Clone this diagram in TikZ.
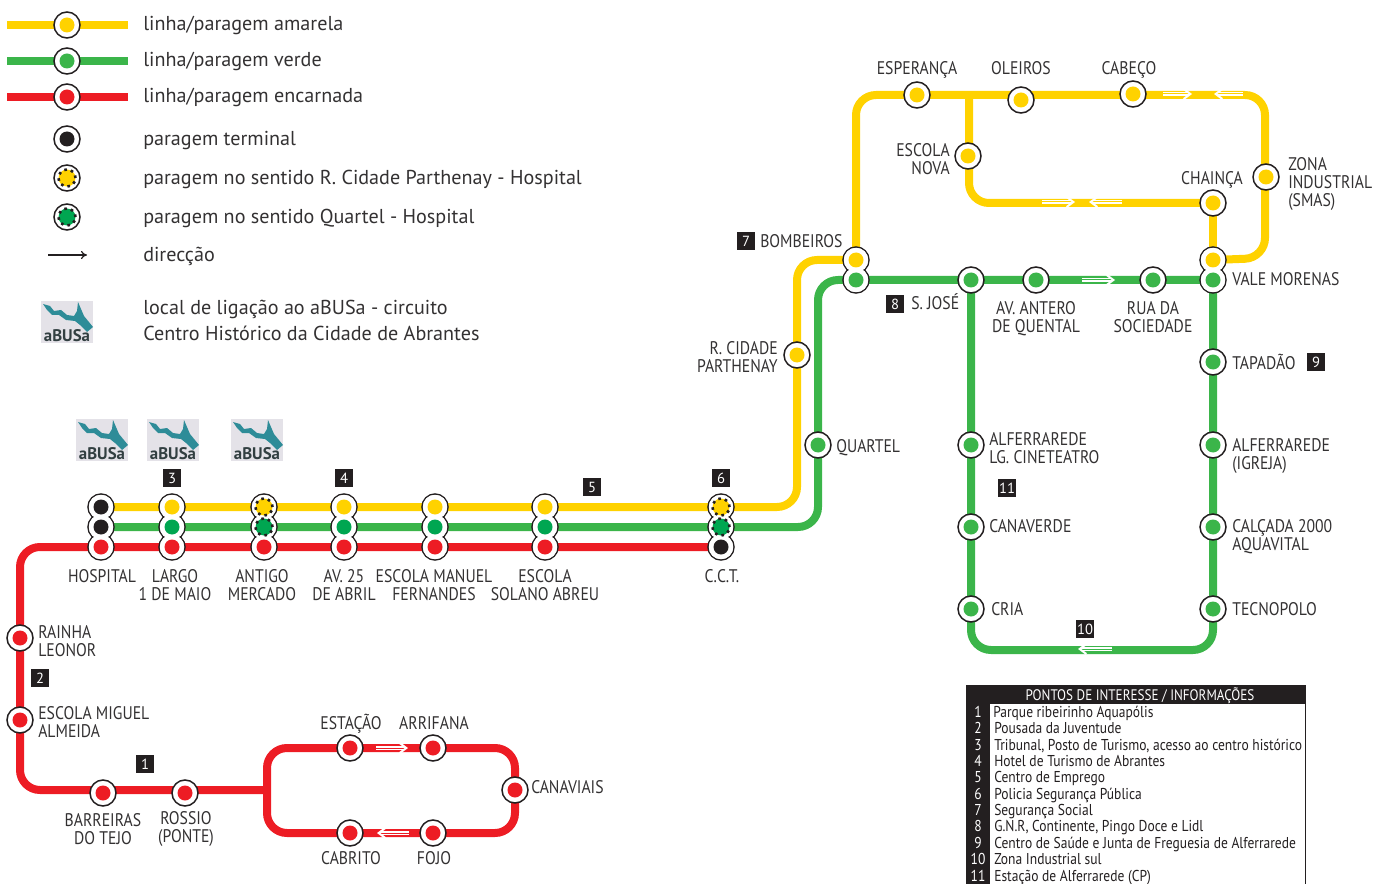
\documentclass[tikz,border=0pt]{standalone}
\usepackage{fontspec}
\setmainfont{PT Sans}
\newfontfamily\condfont[FakeStretch=0.86]{PT Sans}
\usetikzlibrary{arrows.meta}
\newdimen\px \px=.75pt
\definecolor{ylw}{HTML}{FFD200}
\definecolor{grn}{HTML}{3BB54A}
\definecolor{dgrn}{HTML}{00A651}
\definecolor{rd}{HTML}{ED1C24}
\definecolor{blk}{HTML}{231F20}
\definecolor{txt}{HTML}{333132}
\definecolor{teal}{HTML}{2E8C98}
\definecolor{icongrey}{HTML}{E4E2E8}
\pgfdeclarelayer{lines}
\pgfsetlayers{lines,main}
\tikzset{
 ring/.style={circle,draw=blk,line width=1.5\px,fill=white,minimum size=26\px,inner sep=0pt},
 hole/.style={circle,fill=white,minimum size=24.5\px,inner sep=0pt},
 dot/.style={circle,fill=#1,minimum size=15\px,inner sep=0pt},
 dotted dot/.style={circle,fill=#1,draw=blk,line width=2.6\px,dash pattern=on 2.6\px off 4.1\px,minimum size=17\px,inner sep=0pt},
 route/.style={line width=8\px,line join=round},
 ylwline/.style={route,draw=ylw,rounded corners=20\px},
 grnline/.style={route,draw=grn,rounded corners=20\px},
 rdline/.style={route,draw=rd,rounded corners=20\px},
 legendline/.style={line width=8\px},
 lab/.style={font=\condfont\fontsize{13.7pt}{13.5pt}\selectfont,text=txt,inner sep=0pt,align=center,text height=9.6pt,text depth=0pt},
 labl/.style={lab,anchor=west,align=left},
 labr/.style={lab,anchor=east,align=right},
 legtext/.style={font=\fontsize{15.1pt}{18.75pt}\selectfont,text=txt,inner sep=0pt,anchor=base west},
 numbox/.style={fill=blk,text=white,minimum size=18\px,inner sep=0pt,font=\fontsize{11pt}{12pt}\selectfont},
 rowtext/.style={font=\condfont\fontsize{11.8pt}{12pt}\selectfont,text=blk,inner sep=0pt,anchor=west,text height=8.3pt,text depth=0pt},
 rownum/.style={font=\condfont\fontsize{11.8pt}{12pt}\selectfont,text=white,inner sep=0pt,text height=8.3pt,text depth=0pt},
 dirarrow/.style={draw=white,line width=1.1\px,double=#1,double distance=1\px,-{Straight Barb[length=5pt,width=7.5pt,line width=1.5pt,color=white]}},
}
\newcommand{\stn}[4]{\node[ring] (#1) at (#2,#3) {};\node[dot=#4] at (#1) {};}
\newcommand{\stndot}[4]{\node[ring] (#1) at (#2,#3) {};\node[dotted dot=#4] at (#1) {};}
\newcommand{\icon}[3]{%
 \begin{scope}[shift={(#2,#3)}]
 \fill[icongrey] (0,0) rectangle (52,42);
 \fill[teal] (2,3) -- (9,5) -- (13,10) -- (20,9) -- (26,14) -- (33,15) -- (36,10) -- (37,1) -- (40,8) -- (43,15) -- (52,26) -- (46,31) -- (39,24) -- (34,20) -- (25,19) -- (18,14) -- (11,14) -- (6,9) -- cycle;
 \node[inner sep=0pt,text=txt!85!teal,font=\fontsize{12.6pt}{12pt}\bfseries\selectfont] (#1) at (26,35) {aBUSa};
 \end{scope}}
\begin{document}
\begin{tikzpicture}[x=.75pt,y=-.75pt]
\useasboundingbox (0,0) rectangle (1385,884);
% ---------- legend
\stn{legY}{67}{25}{ylw}
\stn{legG}{67}{61}{grn}
\stn{legR}{67}{97}{rd}
\stn{legT}{67}{139}{blk}
\stndot{legDY}{67}{178}{ylw}
\stndot{legDG}{67}{217}{dgrn}
\coordinate (lyA) at (7,25); \coordinate (lyB) at (128,25);
\coordinate (lgA) at (7,61); \coordinate (lgB) at (128,61);
\coordinate (lrA) at (7,97); \coordinate (lrB) at (128,97);
\coordinate (arA) at (48,255); \coordinate (arB) at (87,255);
\node[legtext] (t1) at (143,31) {linha/paragem amarela};
\node[legtext] (t2) at (143,67) {linha/paragem verde};
\node[legtext] (t3) at (143,103) {linha/paragem encarnada};
\node[legtext] (t4) at (143,146) {paragem terminal};
\node[legtext] (t5) at (143,185) {paragem no sentido R. Cidade Parthenay - Hospital};
\node[legtext] (t6) at (143,224) {paragem no sentido Quartel - Hospital};
\node[legtext] (t7) at (143,262) {direcção};
\node[legtext] (t8) at (143,315) {local de ligação ao aBUSa - circuito};
\node[legtext] (t9) at (143,340) {Centro Histórico da Cidade de Abrantes};
\icon{ic0}{41}{301}
\icon{ic1}{76}{419}
\icon{ic2}{147}{419}
\icon{ic3}{231}{419}
% ---------- stops: trunk
\stn{hospY}{101}{507}{blk}\stn{hospG}{101}{527}{blk}\stn{hospR}{101}{547}{rd}
\stn{largoY}{172}{507}{ylw}\stn{largoG}{172}{527}{dgrn}\stn{largoR}{172}{547}{rd}
\stndot{antY}{264}{507}{ylw}\stndot{antG}{264}{527}{dgrn}\stn{antR}{264}{547}{rd}
\stn{avY}{344}{507}{ylw}\stn{avG}{344}{527}{dgrn}\stn{avR}{344}{547}{rd}
\stn{manY}{435}{507}{ylw}\stn{manG}{435}{527}{dgrn}\stn{manR}{435}{547}{rd}
\stn{solY}{545}{507}{ylw}\stn{solG}{545}{527}{dgrn}\stn{solR}{545}{547}{rd}
\stndot{cctY}{721}{507}{ylw}\stndot{cctG}{721}{527}{dgrn}\stn{cctR}{721}{547}{blk}
% merged outlines of the stacks
\foreach \n in {hospY,hospG,hospR,largoY,largoG,largoR,antY,antG,antR,avY,avG,avR,manY,manG,manR,solY,solG,solR,cctY,cctG,cctR}{\node[hole] at (\n) {};}
\foreach \n/\c in {hospY/blk,hospG/blk,hospR/rd,largoY/ylw,largoG/dgrn,largoR/rd,antR/rd,avY/ylw,avG/dgrn,avR/rd,manY/ylw,manG/dgrn,manR/rd,solY/ylw,solG/dgrn,solR/rd,cctR/blk}{\node[dot=\c] at (\n) {};}
\foreach \n/\c in {antY/ylw,antG/dgrn,cctY/ylw,cctG/dgrn}{\node[dotted dot=\c] at (\n) {};}
% ---------- stops: red line
\stn{rainha}{20}{638}{rd}
\stn{miguel}{20}{720}{rd}
\stn{barr}{103}{793}{rd}
\stn{rossio}{185}{793}{rd}
\stn{estacao}{350}{748}{rd}
\stn{arrif}{433}{748}{rd}
\stn{canav}{515}{790}{rd}
\stn{cabrito}{350}{833}{rd}
\stn{fojo}{433}{833}{rd}
% ---------- stops: yellow
\stn{parth}{797}{355}{ylw}
\stn{esper}{917}{95}{ylw}
\stn{oleir}{1021}{100}{ylw}
\stn{cabeco}{1133}{94}{ylw}
\stn{zona}{1266}{177}{ylw}
\stn{esnova}{968}{156}{ylw}
\stn{chainca}{1213}{203}{ylw}
% ---------- stops: green
\stn{quartel}{818}{445}{grn}
\stn{sjose}{971}{280}{grn}
\stn{antero}{1036}{280}{grn}
\stn{socied}{1153}{280}{grn}
\stn{tapadao}{1213}{362}{grn}
\stn{igreja}{1213}{445}{grn}
\stn{calcada}{1213}{527}{grn}
\stn{tecno}{1213}{609}{grn}
\stn{cine}{971}{445}{grn}
\stn{canav2}{971}{527}{grn}
\stn{cria}{971}{609}{grn}
% stacked pairs
\stn{bombY}{856}{260}{ylw}\stn{bombG}{856}{280}{grn}
\stn{valeY}{1213}{260}{ylw}\stn{valeG}{1213}{280}{grn}
\foreach \n/\c in {bombY/ylw,bombG/grn,valeY/ylw,valeG/grn}{\node[hole] at (\n) {};\node[dot=\c] at (\n) {};}
% ---------- corner points
\coordinate (yc1) at (797,507); \coordinate (yc2) at (797,260);
\coordinate (yc3) at (856,95); \coordinate (yc4) at (1265,95); \coordinate (yc5) at (1265,258);
\coordinate (yb1) at (969,95); \coordinate (yb2) at (969,203);
\coordinate (gc1) at (818,527); \coordinate (gc2) at (818,280);
\coordinate (gc3) at (1213,650); \coordinate (gc4) at (971,650);
\coordinate (rc1) at (20,547); \coordinate (rc2) at (20,790); \coordinate (rj) at (267,790);
\coordinate (lc1) at (267,748); \coordinate (lc2) at (515,748); \coordinate (lc3) at (515,833); \coordinate (lc4) at (267,833);
% ---------- routes
\begin{pgfonlayer}{lines}
\draw[legendline,ylw] (lyA) -- (lyB);
\draw[legendline,grn] (lgA) -- (lgB);
\draw[legendline,rd] (lrA) -- (lrB);
\draw[ylwline] (hospY.center) -- (yc1) -- (yc2) -- (bombY.center);
\draw[ylwline] (bombY.center) -- (yc3) -- (yc4) -- (yc5) -- (valeY.center);
\draw[ylwline] (valeY.center) -- (chainca.center);
\draw[ylwline] (chainca.center) -- (yb2) -- (yb1);
\draw[grnline] (hospG.center) -- (gc1) -- (gc2) -- (valeG.center);
\draw[grnline] (valeG.center) -- (gc3) -- (gc4) -- (sjose.center);
\draw[rdline] (cctR.center) -- (rc1) -- (rc2) -- (rj);
\draw[rdline] (lc1) -- (lc2) -- (lc3) -- (lc4) -- cycle;
\end{pgfonlayer}
\draw[-{To[length=4.5pt,width=6pt]},line width=1.2\px,blk] (arA) -- (arB);
% white direction arrows
\coordinate (a1) at (1163,94); \coordinate (a2) at (1192,94);
\coordinate (a3) at (1243,94); \coordinate (a4) at (1214,94);
\coordinate (a5) at (1042,202); \coordinate (a6) at (1075,202);
\coordinate (a7) at (1122,202); \coordinate (a8) at (1089,202);
\coordinate (a9) at (1082,280); \coordinate (a10) at (1115,280);
\coordinate (a11) at (376,748); \coordinate (a12) at (408,748);
\coordinate (a13) at (409,833); \coordinate (a14) at (377,833);
\coordinate (a15) at (1112,649); \coordinate (a16) at (1078,649);
\draw[dirarrow=ylw] (a1) -- (a2);
\draw[dirarrow=ylw] (a3) -- (a4);
\draw[dirarrow=ylw] (a5) -- (a6);
\draw[dirarrow=ylw] (a7) -- (a8);
\draw[dirarrow=grn] (a9) -- (a10);
\draw[dirarrow=rd] (a11) -- (a12);
\draw[dirarrow=rd] (a13) -- (a14);
\draw[dirarrow=grn] (a15) -- (a16);
% ---------- labels (y of a multi-line label is that of its last line)
\node[lab] (l1) at (102,576) {HOSPITAL};
\node[lab] (l2) at (175,594) {LARGO\\1 DE MAIO};
\node[lab] (l3) at (262,594) {ANTIGO\\MERCADO};
\node[lab] (l4) at (344,594) {AV. 25\\DE ABRIL};
\node[lab] (l5) at (434,594) {ESCOLA MANUEL\\FERNANDES};
\node[lab] (l6) at (545,594) {ESCOLA\\SOLANO ABREU};
\node[lab] (l7) at (722,576) {C.C.T.};
\node[labl] (l8) at (38,650) {RAINHA\\LEONOR};
\node[labl] (l9) at (38,731) {ESCOLA MIGUEL\\ALMEIDA};
\node[lab] (l10) at (103,838) {BARREIRAS\\DO TEJO};
\node[lab] (l11) at (186,836) {ROSSIO\\(PONTE)};
\node[lab] (l12) at (351,723) {ESTAÇÃO};
\node[lab] (l13) at (434,723) {ARRIFANA};
\node[labl] (l14) at (531,787) {CANAVIAIS};
\node[lab] (l15) at (351,858) {CABRITO};
\node[lab] (l16) at (434,858) {FOJO};
\node[labr] (l17) at (778,366) {R. CIDADE\\PARTHENAY};
\node[labl] (l18) at (836,446) {QUARTEL};
\node[labl] (l19) at (760,241) {BOMBEIROS};
\node[lab] (l20) at (917,68) {ESPERANÇA};
\node[lab] (l21) at (1021,68) {OLEIROS};
\node[lab] (l22) at (1129,68) {CABEÇO};
\node[labr] (l23) at (950,168) {ESCOLA\\NOVA};
\node[lab] (l24) at (1212,178) {CHAINÇA};
\node[labl] (l25) at (1288,200) {ZONA\\INDUSTRIAL\\(SMAS)};
\node[labl] (l26) at (1232,279) {VALE MORENAS};
\node[labl] (l27) at (911,303) {S. JOSÉ};
\node[lab] (l28) at (1036,326) {AV. ANTERO\\DE QUENTAL};
\node[lab] (l29) at (1153,326) {RUA DA\\SOCIEDADE};
\node[labl] (l30) at (1232,363) {TAPADÃO};
\node[labl] (l31) at (1232,463) {ALFERRAREDE\\(IGREJA)};
\node[labl] (l32) at (989,457) {ALFERRAREDE\\LG. CINETEATRO};
\node[labl] (l33) at (989,526) {CANAVERDE};
\node[labl] (l34) at (1232,544) {CALÇADA 2000\\AQUAVITAL};
\node[labl] (l35) at (991,609) {CRIA};
\node[labl] (l36) at (1232,609) {TECNOPOLO};
% ---------- numbered boxes
\node[numbox] (n1) at (145,764) {1};
\node[numbox] (n2) at (40,678) {2};
\node[numbox] (n3) at (172,478) {3};
\node[numbox] (n4) at (344,478) {4};
\node[numbox] (n5) at (592,487) {5};
\node[numbox] (n6) at (721,478) {6};
\node[numbox] (n7) at (746,241) {7};
\node[numbox] (n8) at (895,304) {8};
\node[numbox] (n9) at (1316,362) {9};
\node[numbox] (n10) at (1085,629) {10};
\node[numbox] (n11) at (1007,488) {11};
% ---------- table
\fill[blk] (966,685) rectangle (1306,884);
\fill[white] (990,704) rectangle (1305,884);
\node[font=\condfont\fontsize{11.45pt}{12pt}\selectfont,text=white,inner sep=0pt,text height=8pt,text depth=0pt] (th) at (1140,695) {PONTOS DE INTERESSE / INFORMAÇÕES};
\foreach \k/\y/\x/\s in {1/712/993/Parque ribeirinho Aquapólis,2/728/994/Pousada da Juventude,3/745/994/{Tribunal, Posto de Turismo, acesso ao centro histórico},4/761/994/Hotel de Turismo de Abrantes,5/777/994/Centro de Emprego,6/794/994/Policia Segurança Pública,7/810/994/Segurança Social,8/826/994/{G.N.R, Continente, Pingo Doce e Lidl},9/843/994/Centro de Saúde e Junta de Freguesia de Alferrarede,10/859/994/Zona Industrial sul,11/876/994/Estação de Alferrarede (CP)}{
 \node[rownum] (rn\k) at (978,\y) {\k};
 \node[rowtext] (rt\k) at (\x,\y) {\s};
}
\end{tikzpicture}
\end{document}
